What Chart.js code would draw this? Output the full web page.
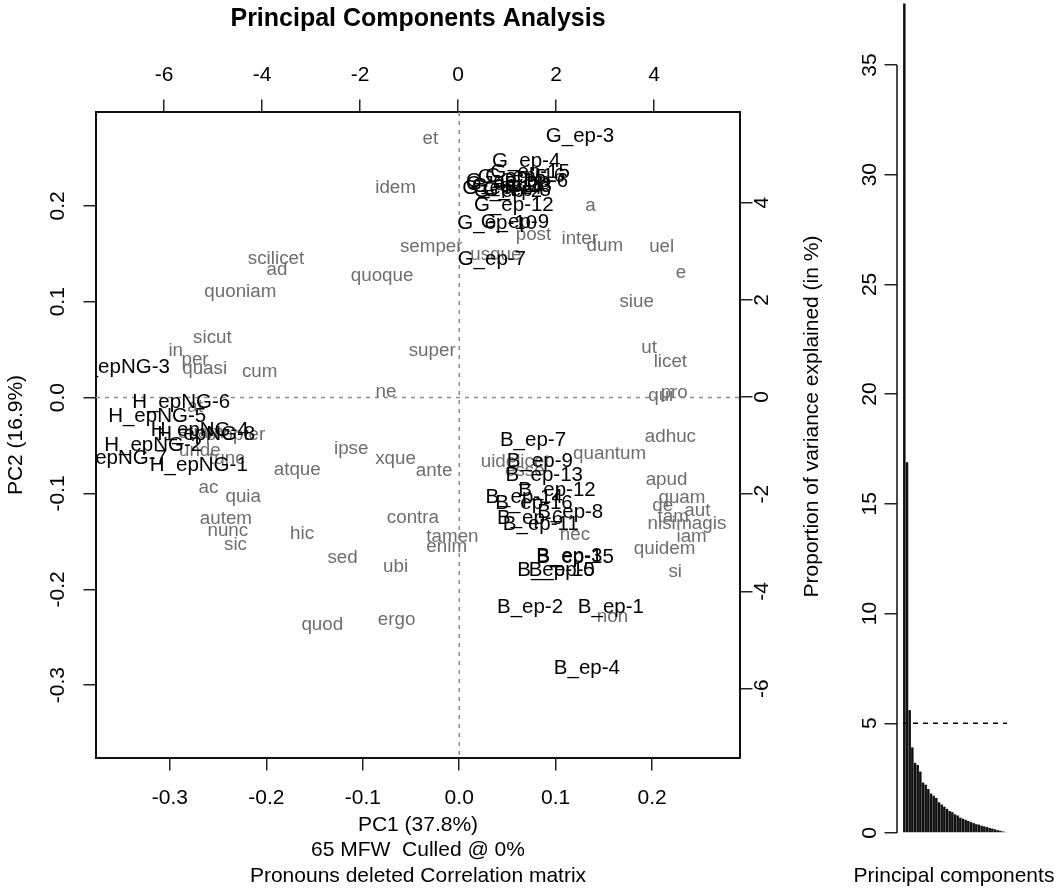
<!DOCTYPE html>
<html>
<head>
<meta charset="utf-8">
<title>Principal Components Analysis</title>
<script src="https://cdn.jsdelivr.net/npm/chart.js@4.4.1/dist/chart.umd.min.js"></script>
<style>
  body { margin: 0; background: #fff; }
  #wrap { position: relative; width: 1060px; height: 890px; }
  #pca { position: absolute; left: 0; top: 0; }
  #scree { position: absolute; left: 780px; top: 0; }
</style>
</head>
<body>
<div id="wrap">
  <canvas id="pca" width="780" height="890"></canvas>
  <canvas id="scree" width="280" height="890"></canvas>
</div>
<script>
const FONT = "'Liberation Sans', Arial, Helvetica, sans-serif"
Chart.defaults.font.family = FONT
Chart.defaults.color = '#000'

// texts (scores) -> top / right axes
const TEXTS = ['G_ep-1','G_ep-2','G_ep-3','G_ep-4','G_ep-5','G_ep-6','G_ep-7','G_ep-8',
  'G_ep-9','G_ep-10','G_ep-11','G_ep-12','G_ep-13','G_ep-14','G_ep-15','G_ep-16',
  'B_ep-1','B_ep-2','B_ep-3','B_ep-4','B_ep-5','B_ep-6','B_ep-7','B_ep-8',
  'B_ep-9','B_ep-10','B_ep-11','B_ep-12','B_ep-13','B_ep-14','B_ep-15','B_ep-16',
  'H_epNG-1','H_epNG-2','H_epNG-3','H_epNG-4','H_epNG-5','H_epNG-6','H_epNG-7','H_epNG-8']
const TEXT_PC1 = [0.86, 1.02, 2.49, 1.39, 1.10, 1.55, 0.69, 1.20, 1.16, 0.80, 0.96, 1.14, 1.10, 0.90, 1.47, 1.37,
  3.12, 1.47, 2.27, 2.63, 2.12, 1.47, 1.53, 2.29, 1.67, 2.00, 1.69, 2.02, 1.76, 1.35, 2.39, 1.55,
  -5.29, -6.22, -6.88, -5.27, -6.14, -5.65, -6.94, -5.14]
const TEXT_PC2 = [4.44, 4.24, 5.37, 4.84, 4.51, 4.44, 2.84, 4.26, 3.60, 3.58, 4.38, 3.95, 4.34, 4.30, 4.63, 4.53,
  -4.32, -4.32, -3.27, -5.58, -3.56, -2.49, -0.89, -2.37, -1.32, -3.56, -2.63, -1.93, -1.61, -2.06, -3.29, -2.18,
  -1.40, -0.99, 0.62, -0.68, -0.39, -0.12, -1.26, -0.76]

// words (loadings) -> bottom / left axes
const WORDS = ['et','idem','semper','scilicet','ad','quoniam','quoque','sicut','in','per','quasi','cum',
  'super','ne','a','post','inter','dum','usque','uel','e','siue','ut','licet','qui','pro',
  'ipse','xque','ante','atque','ac','quia','autem','nunc','sic','hic','contra','tamen','enim',
  'sed','ubi','quod','ergo','at','etiam','propter','unde','tunc','adhuc','quantum','uidelicet',
  'esse','apud','quam','de','aut','tam','nisi','magis','iam','quidem','si','nec','non']
const WORD_PC1 = [-0.030, -0.066, -0.029, -0.190, -0.189, -0.227, -0.080, -0.256, -0.294, -0.274, -0.264, -0.207,
  -0.028, -0.076, 0.136, 0.077, 0.125, 0.151, 0.038, 0.210, 0.230, 0.184, 0.197, 0.219, 0.209, 0.223,
  -0.112, -0.066, -0.026, -0.168, -0.260, -0.224, -0.242, -0.240, -0.232, -0.163, -0.048, -0.007, -0.013,
  -0.121, -0.066, -0.142, -0.065, -0.274, -0.268, -0.232, -0.269, -0.241, 0.219, 0.156, 0.058,
  0.068, 0.215, 0.231, 0.211, 0.247, 0.222, 0.210, 0.251, 0.241, 0.213, 0.224, 0.120, 0.159]
const WORD_PC2 = [0.270, 0.219, 0.157, 0.145, 0.133, 0.110, 0.127, 0.062, 0.049, 0.039, 0.030, 0.027,
  0.049, 0.006, 0.200, 0.170, 0.166, 0.158, 0.149, 0.157, 0.130, 0.100, 0.052, 0.037, 0.002, 0.005,
  -0.053, -0.064, -0.076, -0.075, -0.094, -0.104, -0.126, -0.139, -0.154, -0.142, -0.125, -0.145, -0.156,
  -0.167, -0.177, -0.237, -0.232, -0.010, -0.037, -0.039, -0.056, -0.064, -0.041, -0.059, -0.067,
  -0.076, -0.086, -0.105, -0.113, -0.118, -0.124, -0.132, -0.132, -0.145, -0.158, -0.182, -0.143, -0.229]

const LOAD_TICKS = [-0.3, -0.2, -0.1, 0, 0.1, 0.2]
const SCORE_TICKS = [-6, -4, -2, 0, 2, 4]

// scree plot: % of variance per component
const SCREE = [37.8, 16.9, 5.6, 3.9, 3.2, 3.1, 2.8, 2.3, 2.2, 2.0, 1.8, 1.7, 1.6, 1.4, 1.3, 1.2, 1.1, 1.0,
  0.95, 0.85, 0.8, 0.7, 0.65, 0.6, 0.55, 0.5, 0.45, 0.4, 0.38, 0.33, 0.3, 0.27, 0.23, 0.2, 0.17, 0.13, 0.1, 0.07, 0.04]
const SCREE_TICKS = [0, 5, 10, 15, 20, 25, 30, 35]
const CUTOFF = 5

const GRID = { drawOnChartArea: false, drawTicks: true, tickLength: 12.5, color: '#222', lineWidth: 1.5 }
const BORDER = { display: true, color: '#111', width: 2 }

function fixSize(size){
    return function(scale){
        if (scale.isHorizontal()) scale.height = size
        else scale.width = size
        scale.paddingLeft = scale.paddingRight = scale.paddingTop = scale.paddingBottom = 0
    }
}
function setTicks(values){
    return function(scale){ scale.ticks = values.map(v => ({ value: v })) }
}

// dashed zero lines
const zeroLines = {
    id: 'zeroLines',
    beforeDatasetsDraw(chart){
        const { ctx, chartArea: a, scales: { x, y } } = chart
        const px = x.getPixelForValue(0), py = y.getPixelForValue(0)
        ctx.save()
        ctx.strokeStyle = '#8c8c8c'
        ctx.lineWidth = 1.5
        ctx.setLineDash([4, 5])
        ctx.beginPath()
        ctx.moveTo(px, a.top); ctx.lineTo(px, a.bottom)
        ctx.moveTo(a.left, py); ctx.lineTo(a.right, py)
        ctx.stroke()
        ctx.restore()
    }
}

// text labels drawn at the points
const pointLabels = {
    id: 'pointLabels',
    afterDatasetsDraw(chart){
        const { ctx, chartArea: a } = chart
        ctx.save()
        ctx.beginPath()
        ctx.rect(a.left, a.top, a.right - a.left, a.bottom - a.top)
        ctx.clip()
        ctx.textAlign = 'center'
        ctx.textBaseline = 'middle'
        chart.data.datasets.forEach((ds, i) => {
            const meta = chart.getDatasetMeta(i)
            ctx.font = ds.labelSize + 'px ' + FONT
            ctx.fillStyle = ds.labelColor
            meta.data.forEach((pt, j) => ctx.fillText(ds.names[j], pt.x, pt.y))
        })
        ctx.restore()
    }
}

new Chart(document.getElementById('pca'), {
    type: 'scatter',
    data: {
        datasets: [{
            label: 'words',
            data: WORDS.map((w, i) => ({ x: WORD_PC1[i], y: WORD_PC2[i] })),
            names: WORDS, labelSize: 18.8, labelColor: '#6e6e6e',
            xAxisID: 'x', yAxisID: 'y', pointRadius: 0
        },
        {
            label: 'texts',
            data: TEXTS.map((t, i) => ({ x: TEXT_PC1[i], y: TEXT_PC2[i] })),
            names: TEXTS, labelSize: 20.5, labelColor: '#000',
            xAxisID: 'x2', yAxisID: 'y2', pointRadius: 0
        }]
    },
    options: {
        responsive: false,
        animation: false,
        events: [],
        layout: { padding: 0 },
        plugins: { legend: { display: false }, tooltip: { enabled: false } },
        scales: {
            x: {
                type: 'linear', axis: 'x', position: 'bottom', min: -0.3767, max: 0.2912,
                afterBuildTicks: setTicks(LOAD_TICKS), afterFit: fixSize(132),
                ticks: { callback: v => v.toFixed(1), font: { size: 21 }, padding: 15, minRotation: 0, maxRotation: 0 },
                grid: GRID, border: BORDER,
                title: { display: true, text: ['PC1 (37.8%)', '65 MFW  Culled @ 0%', 'Pronouns deleted Correlation matrix'],
                    font: { size: 21 }, padding: { top: 0, bottom: 1.5 } }
            },
            y: {
                type: 'linear', axis: 'y', position: 'left', min: -0.376, max: 0.298,
                afterBuildTicks: setTicks(LOAD_TICKS), afterFit: fixSize(96),
                ticks: { callback: v => v.toFixed(1), font: { size: 21 }, padding: 7.4, minRotation: 90, maxRotation: 90, crossAlign: 'center' },
                grid: GRID, border: BORDER,
                title: { display: true, text: 'PC2 (16.9%)', font: { size: 21 }, padding: { top: 4, bottom: 0 } }
            },
            x2: {
                type: 'linear', axis: 'x', position: 'top', min: -7.388, max: 5.755,
                afterBuildTicks: setTicks(SCORE_TICKS), afterFit: fixSize(112),
                ticks: { font: { size: 21 }, padding: 12, minRotation: 0, maxRotation: 0 },
                grid: GRID, border: BORDER,
                title: { display: true, text: 'Principal Components Analysis', font: { size: 25, weight: 'bold' }, padding: { top: 4, bottom: 0 } }
            },
            y2: {
                type: 'linear', axis: 'y', position: 'right', min: -7.428, max: 5.864,
                afterBuildTicks: setTicks(SCORE_TICKS), afterFit: fixSize(40),
                ticks: { font: { size: 21 }, padding: 0, minRotation: 90, maxRotation: 90, crossAlign: 'center' },
                grid: GRID, border: BORDER
            }
        }
    },
    plugins: [zeroLines, pointLabels]
})

// axis line of the scree plot only spans the ticks, as in R; x title is wider than the plot
const screeAxis = {
    id: 'screeAxis',
    afterDraw(chart){
        const { ctx, chartArea: a, scales: { y } } = chart
        ctx.save()
        ctx.strokeStyle = '#111'
        ctx.lineWidth = 1.5
        ctx.beginPath()
        ctx.moveTo(a.left, y.getPixelForValue(SCREE_TICKS[0]))
        ctx.lineTo(a.left, y.getPixelForValue(SCREE_TICKS[SCREE_TICKS.length - 1]))
        ctx.stroke()
        ctx.font = '21px ' + FONT
        ctx.fillStyle = '#000'
        ctx.textAlign = 'center'
        ctx.textBaseline = 'middle'
        ctx.fillText('Principal components', (a.left + a.right) / 2, chart.height - 14)
        ctx.restore()
    }
}

new Chart(document.getElementById('scree'), {
    type: 'bar',
    data: {
        datasets: [{
            type: 'line',
            data: [{ x: 0.5, y: CUTOFF }, { x: SCREE.length + 0.5, y: CUTOFF }],
            borderColor: '#000', borderWidth: 1.5, borderDash: [5, 5], pointRadius: 0
        },
        {
            type: 'bar',
            data: SCREE.map((v, i) => ({ x: i + 1, y: v })),
            backgroundColor: '#111', borderWidth: 0,
            barPercentage: 0.94, categoryPercentage: 1
        }]
    },
    options: {
        responsive: false,
        animation: false,
        events: [],
        layout: { padding: { top: 0, right: 49, bottom: 0, left: 0 } },
        plugins: { legend: { display: false }, tooltip: { enabled: false } },
        scales: {
            x: {
                type: 'linear', position: 'bottom', min: -1.75, max: 41, offset: false,
                afterFit: fixSize(57),
                ticks: { display: false }, grid: { display: false, offset: false }, border: { display: false }
            },
            y: {
                type: 'linear', position: 'left', min: 0, max: 37.96,
                afterBuildTicks: setTicks(SCREE_TICKS), afterFit: fixSize(117),
                ticks: { font: { size: 21 }, padding: 3, minRotation: 90, maxRotation: 90, crossAlign: 'center' },
                grid: GRID, border: { display: false },
                title: { display: true, text: 'Proportion of variance explained (in %)', font: { size: 21 }, padding: { top: 19.4, bottom: 0 } }
            }
        }
    },
    plugins: [screeAxis]
})
</script>
</body>
</html>
